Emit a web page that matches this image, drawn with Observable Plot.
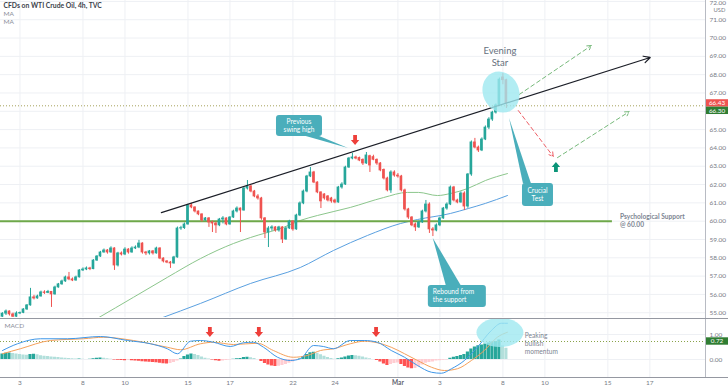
<!DOCTYPE html>
<html>
<head>
<meta charset="utf-8">
<script src="https://cdn.jsdelivr.net/npm/d3@7"></script>
<script src="https://cdn.jsdelivr.net/npm/@observablehq/plot@0.6"></script>
<style>
  html, body { margin: 0; padding: 0; background: #ffffff; }
  #chart { position: relative; width: 728px; height: 390px; overflow: hidden; background: #fff; }
  #chart svg { position: absolute; left: 0; display: block; }
</style>
</head>
<body>
<div id="chart"></div>
<script>
// ---------------- DATA ----------------
const titleText = "CFDs on WTI Crude Oil, 4h, TVC";
const legendLines = ["MA", "MA"];

// x positions are 4h candle indices (6 candles per trading day)
const tickIdx = [5, 23, 35, 53, 65, 83, 95, 113, 125, 143, 155, 173, 185];
const tickLabels = ["3", "8", "10", "15", "17", "22", "24", "Mar", "3", "8", "10", "15", "17"];
const priceTicks = [55, 56, 57, 58, 59, 60, 61, 62, 63, 64, 65, 66, 67, 68, 69, 70, 71, 72];
const macdTicks = [0, 1];

const opens = [54.78,54.95,55.07,54.91,54.78,54.96,54.99,55.18,55.40,55.84,
55.78,55.89,56.11,56.08,56.14,56.00,56.38,56.55,56.71,56.93,
56.82,56.76,56.93,57.31,57.36,57.42,57.38,57.85,58.07,58.29,
58.40,58.29,58.51,57.58,58.24,58.18,58.45,58.29,58.51,58.56,
58.78,58.29,58.24,58.35,58.24,58.51,57.96,57.80,57.74,57.69,
58.02,59.60,59.62,59.82,60.86,60.75,60.53,60.37,60.04,60.15,
59.93,59.87,59.77,60.09,60.15,59.82,60.20,60.53,60.69,60.58,
61.78,61.89,61.62,61.35,61.24,60.15,59.38,59.60,59.66,59.49,
59.66,59.00,59.60,59.98,59.55,60.31,60.97,61.62,62.44,62.66,
62.11,61.57,61.46,61.35,61.24,61.13,61.02,61.84,62.00,62.93,
63.42,63.48,63.45,63.35,63.15,63.55,63.50,63.35,63.15,62.80,
62.33,61.68,62.66,62.49,62.44,61.68,60.64,60.20,59.82,59.66,
59.93,60.53,60.91,59.55,59.49,59.77,60.15,60.69,60.91,61.84,
61.13,61.02,61.51,60.80,62.55,64.30,64.02,63.86,64.46,65.11,
65.55,65.93,66.32,67.85,67.70];
const highs = [55.00,55.15,55.10,54.98,55.05,55.04,55.22,55.45,56.33,55.95,
55.96,56.18,56.20,56.22,56.16,56.45,56.60,56.78,57.00,57.20,
56.90,57.00,57.35,57.45,57.50,57.48,57.90,58.12,58.35,58.48,
58.45,58.60,58.55,58.30,58.32,58.55,58.50,58.60,58.65,58.95,
58.82,58.35,58.40,58.40,58.58,58.55,58.00,57.85,57.80,58.08,
59.68,59.72,59.90,60.92,60.97,60.78,60.55,60.40,60.20,60.20,
60.00,59.95,60.15,60.25,60.18,60.25,60.60,60.78,60.72,61.85,
62.22,61.95,61.68,61.45,61.30,60.20,59.70,59.75,59.70,59.72,
59.70,59.68,60.05,60.02,60.38,61.05,61.70,62.50,62.93,62.72,
62.15,61.60,61.50,61.40,61.30,61.20,61.90,62.10,63.00,63.48,
63.70,63.55,63.50,63.40,63.75,63.60,63.60,63.40,63.20,62.85,
62.40,62.75,62.75,62.60,62.50,61.75,60.70,60.25,59.90,60.00,
60.60,61.13,61.00,59.65,59.85,60.22,60.75,61.00,61.92,61.90,
61.20,61.60,61.60,62.60,64.38,64.52,64.10,64.55,65.20,65.65,
66.00,66.40,67.82,68.06,67.75];
const lows = [54.75,54.85,54.82,54.74,54.75,54.90,54.95,55.12,55.36,55.70,
55.74,55.85,56.00,56.04,55.29,55.96,56.34,56.50,56.66,56.75,
56.70,56.72,56.90,57.25,57.30,57.30,57.35,57.80,58.02,58.25,
58.20,58.25,57.31,57.50,58.10,58.12,58.20,58.25,58.45,58.50,
58.20,58.12,58.15,58.15,58.20,57.90,57.72,57.68,57.42,57.65,
57.98,59.50,59.55,59.78,60.68,60.45,60.30,59.95,60.00,59.66,
59.38,59.33,59.70,59.85,59.75,59.78,60.15,60.45,59.38,60.55,
61.70,61.55,61.28,61.15,60.05,59.05,58.56,59.45,59.40,59.40,
58.78,58.95,59.55,59.45,59.50,60.25,60.90,61.55,62.38,62.05,
61.50,60.69,61.15,61.05,60.98,60.95,60.98,61.75,61.95,62.88,
63.35,63.35,63.25,63.04,63.10,62.66,63.30,63.05,62.70,62.25,
61.60,61.52,62.40,62.35,61.60,60.55,60.10,59.70,59.44,59.60,
59.88,60.45,59.33,59.16,59.42,59.70,60.10,60.60,60.85,61.05,
60.95,60.98,60.58,60.70,62.45,63.95,63.75,63.80,64.40,65.00,
65.45,65.85,66.25,67.45,66.15];
const closes = [54.95,55.07,54.91,54.78,54.96,54.99,55.18,55.40,55.84,55.78,
55.89,56.11,56.08,56.14,56.00,56.38,56.55,56.71,56.93,56.82,
56.76,56.93,57.31,57.36,57.42,57.38,57.85,58.07,58.29,58.40,
58.29,58.51,57.58,58.24,58.18,58.45,58.29,58.51,58.56,58.78,
58.29,58.24,58.35,58.24,58.51,57.96,57.80,57.74,57.69,58.02,
59.60,59.62,59.82,60.86,60.75,60.53,60.37,60.04,60.15,59.93,
59.87,59.77,60.09,60.15,59.82,60.20,60.53,60.69,60.58,61.78,
61.89,61.62,61.35,61.24,60.15,59.38,59.60,59.66,59.49,59.66,
59.00,59.60,59.98,59.55,60.31,60.97,61.62,62.44,62.66,62.11,
61.57,61.08,61.24,61.13,61.08,61.02,61.84,62.00,62.93,63.42,
63.48,63.42,63.31,63.15,63.59,63.04,63.35,63.15,62.77,62.33,
61.68,62.66,62.49,62.44,61.68,60.64,60.20,59.77,59.66,59.93,
60.53,60.91,59.55,59.49,59.77,60.15,60.69,60.91,61.84,61.13,
61.02,61.51,60.80,62.55,64.30,64.02,63.86,64.46,65.11,65.55,
65.93,66.32,67.73,67.70,66.43];

// moving averages (candle index, price)
const maFastIdx = [27.1, 37.4, 47.1, 56.6, 66, 70.9, 80.3, 85.1, 90, 99.4, 108.9, 115.7, 118.9, 124.3, 128, 132.9, 138, 144.3];
const maFastVal = [54.69, 55.84, 56.93, 57.96, 58.78, 59.11, 59.66, 60.04, 60.31, 60.75, 61.29, 61.57, 61.57, 61.40, 61.51, 61.78, 62.22, 62.60];
const maSlowIdx = [45.1, 56.6, 70.9, 85.1, 94.6, 104.3, 113.7, 118.6, 128, 133.1, 138, 144.3];
const maSlowVal = [54.69, 55.51, 56.60, 57.47, 58.40, 59.22, 59.87, 60.09, 60.42, 60.69, 60.97, 61.40];

// MACD panel
const macdIdx = [0, 4.3, 10.9, 18.6, 28, 35.7, 42.3, 47.1, 50, 53.7, 56.6, 60.3, 65.1, 68.9, 71.7, 74.6, 78.6, 82.3, 85.1, 88.9, 91.7, 94.6, 99.4, 103.4, 107.1, 111.1, 114.9, 118.6, 122.6, 125.4, 128.3, 132, 135.7, 139.7, 142.6, 144.3];
const macdVal = [0.36, 0.63, 0.83, 0.83, 0.92, 0.76, 0.63, 0.43, 0.23, 0.73, 0.76, 0.69, 0.52, 0.67, 0.69, 0.49, 0.09, -0.04, 0.03, 0.56, 0.52, 0.43, 0.76, 0.76, 0.69, 0.36, 0.09, -0.24, -0.51, -0.55, -0.37, -0.04, 0.49, 1.16, 1.45, 1.45];
const signalIdx = [0, 5.1, 13.7, 23.1, 28.9, 37.4, 47.1, 50.9, 56.6, 60.3, 66, 72.9, 77.4, 83.1, 87.1, 90.9, 94.6, 99.4, 103.4, 107.1, 111.1, 114.9, 118.6, 122.6, 126.3, 130, 134, 137.7, 141.4, 144.3];
const signalVal = [0.23, 0.43, 0.76, 0.83, 0.89, 0.76, 0.49, 0.39, 0.63, 0.69, 0.60, 0.65, 0.36, 0.09, 0.16, 0.36, 0.43, 0.63, 0.73, 0.67, 0.49, 0.23, -0.04, -0.31, -0.44, -0.37, -0.04, 0.36, 0.89, 1.09];
const hist = [0.22,0.25,0.26,0.24,0.22,0.20,0.18,0.17,0.20,0.21,
0.19,0.15,0.13,0.12,0.10,0.09,0.08,0.06,0.05,0.04,
0.03,0.02,0.02,0.01,0.00,0.01,0.03,0.05,0.06,0.05,
0.03,0.01,-0.02,-0.03,-0.04,-0.05,-0.03,-0.05,-0.06,-0.07,
-0.09,-0.10,-0.11,-0.12,-0.13,-0.15,-0.17,-0.18,-0.16,-0.12,
-0.06,0.02,0.12,0.18,0.22,0.20,0.16,0.10,0.05,0.02,
-0.02,-0.05,-0.07,-0.06,-0.04,-0.02,0.01,0.03,0.04,0.08,
0.09,0.07,0.04,0.00,-0.08,-0.16,-0.22,-0.26,-0.28,-0.27,
-0.24,-0.20,-0.15,-0.10,-0.04,0.02,0.12,0.20,0.27,0.29,
0.25,0.19,0.13,0.08,0.04,0.01,0.03,0.06,0.10,0.14,
0.16,0.15,0.13,0.10,0.06,0.03,0.00,-0.04,-0.10,-0.18,
-0.24,-0.20,-0.16,-0.14,-0.20,-0.28,-0.34,-0.37,-0.36,-0.30,
-0.22,-0.15,-0.12,-0.10,-0.06,-0.05,-0.03,-0.02,0.05,0.09,
0.12,0.16,0.20,0.30,0.42,0.50,0.55,0.58,0.62,0.66,
0.70,0.72,0.78,0.55,0.45];

const lastPrice = 66.43, prevPrice = 66.30, macdLast = 0.72;
const supportLevel = 60;
const supportLabel = ["Psychological Support", "@ 60.00"];
const starLabel = ["Evening", "Star"];
const momentumLabel = ["Peaking", "bullish", "momentum"];

// ---------------- STYLE ----------------
const FONT = "Lato, 'Open Sans', 'DejaVu Sans', sans-serif";
const UP = "#26a69a", DOWN = "#ef5350";
const GRID = "#eef0f4", AXIS_TXT = "#787b86";
const TEAL = "#4aaebb";
const xDomain = [-0.57, 200.9];

const candles = closes.map((c, i) => ({i, o: opens[i], h: highs[i], l: lows[i], c, col: c >= opens[i] ? UP : DOWN}));
const maFast = maFastIdx.map((i, k) => ({i, v: maFastVal[k]}));
const maSlow = maSlowIdx.map((i, k) => ({i, v: maSlowVal[k]}));
const macdLine = macdIdx.map((i, k) => ({i, v: macdVal[k]}));
const signalLine = signalIdx.map((i, k) => ({i, v: signalVal[k]}));
const histData = hist.map((v, i) => {
  const p = i > 0 ? hist[i - 1] : v - 0.01;
  const col = v >= 0 ? (v >= p ? "#26a69a" : "#b2dfdb") : (v < p ? "#ff5252" : "#ffcdd2");
  return {i, v, col};
});

// annotation geometry (candle index, price)
const trendLine = [{i1: 45.4, p1: 60.47, i2: 185.1, p2: 68.94}];
const scenarioUp = [{i1: 147.7, p1: 66.92, i2: 168.3, p2: 69.59}];
const scenarioDown = [{i1: 147.4, p1: 66.04, i2: 157.4, p2: 63.53}];
const scenarioRebound = [{i1: 158.6, p1: 63.47, i2: 179.1, p2: 65.98}];
const supportSeg = [{y: supportLevel, x1: -1, x2: 174.3}];

// ---------------- MAIN PANEL ----------------
const main = Plot.plot({
  width: 728, height: 318,
  marginLeft: 0, marginRight: 23, marginTop: 0, marginBottom: 1,
  x: {domain: xDomain, axis: null},
  y: {domain: [54.74, 72.05], axis: null},
  color: {type: "identity"},
  style: {background: "transparent", fontFamily: FONT, overflow: "visible"},
  marks: [
    Plot.ruleY(priceTicks, {stroke: GRID}),
    Plot.ruleX(tickIdx, {stroke: GRID}),
    Plot.ruleY([prevPrice], {stroke: "#a6a25a", strokeDasharray: "1,2", strokeWidth: 1}),
    Plot.line(maFast, {x: "i", y: "v", stroke: "#8cc68c", strokeWidth: 1, curve: "monotone-x", clip: true}),
    Plot.line(maSlow, {x: "i", y: "v", stroke: "#5aa0e0", strokeWidth: 1, curve: "monotone-x", clip: true}),
    Plot.ruleY(supportSeg, {y: "y", x1: "x1", x2: "x2", stroke: "#6ea84a", strokeWidth: 2}),
    Plot.ruleX(candles, {x: "i", y1: "l", y2: "h", stroke: "col", strokeWidth: 1, ariaLabel: "wicks", clip: true}),
    Plot.rect(candles, {x1: d => d.i - 0.38, x2: d => d.i + 0.38, y1: "o", y2: "c", fill: "col", insetTop: -0.4, insetBottom: -0.4, clip: true}),
    Plot.arrow(trendLine, {x1: "i1", y1: "p1", x2: "i2", y2: "p2", stroke: "#1b1e27", strokeWidth: 1.2, headLength: 9, headAngle: 55}),
    Plot.arrow(scenarioUp, {x1: "i1", y1: "p1", x2: "i2", y2: "p2", stroke: "#76b97a", strokeWidth: 1, strokeDasharray: "4,3", headLength: 7, headAngle: 60}),
    Plot.arrow(scenarioDown, {x1: "i1", y1: "p1", x2: "i2", y2: "p2", stroke: "#ee5f66", strokeWidth: 1, strokeDasharray: "4,3", headLength: 7, headAngle: 60}),
    Plot.arrow(scenarioRebound, {x1: "i1", y1: "p1", x2: "i2", y2: "p2", stroke: "#76b97a", strokeWidth: 1, strokeDasharray: "4,3", headLength: 7, headAngle: 60}),
    Plot.text([titleText], {frameAnchor: "top-left", dx: 3, dy: 2.5, text: d => d, fontSize: 6.8, fontWeight: "bold", fill: "#3b3f4a", textAnchor: "start", lineAnchor: "top"}),
    Plot.text(legendLines, {frameAnchor: "top-left", dx: 3, text: d => d, fontSize: 6.5, fill: "#8a8e99", textAnchor: "start", lineAnchor: "top", filter: (d, k) => k === 0, dy: 11}),
    Plot.text(legendLines, {frameAnchor: "top-left", dx: 3, text: d => d, fontSize: 6.5, fill: "#8a8e99", textAnchor: "start", lineAnchor: "top", filter: (d, k) => k === 1, dy: 19}),
    Plot.text(priceTicks.filter(d => d < 72), {y: d => d, text: d => d.toFixed(2), frameAnchor: "right", dx: 4, textAnchor: "start", fontSize: 6.5, fill: AXIS_TXT}),
    Plot.text(priceTicks.filter(d => d === 72), {frameAnchor: "top-right", dx: 4, dy: 0, text: d => d.toFixed(2), textAnchor: "start", lineAnchor: "top", fontSize: 6.5, fill: AXIS_TXT}),
    Plot.text(["USD"], {frameAnchor: "top-right", dx: 8, dy: 7, text: d => d, textAnchor: "start", lineAnchor: "top", fontSize: 5.8, fill: AXIS_TXT})
  ]
});

// ---------------- MACD PANEL ----------------
const macd = Plot.plot({
  width: 728, height: 72,
  marginLeft: 0, marginRight: 23, marginTop: 0, marginBottom: 13,
  x: {domain: xDomain, axis: null},
  y: {domain: [-0.72, 1.64], axis: null},
  color: {type: "identity"},
  style: {background: "transparent", fontFamily: FONT, overflow: "visible"},
  marks: [
    Plot.ruleX(tickIdx, {stroke: GRID}),
    Plot.ruleY(macdTicks, {stroke: GRID}),
    Plot.rect(histData, {x1: d => d.i - 0.45, x2: d => d.i + 0.45, y1: () => 0, y2: "v", fill: "col", ariaLabel: "hist"}),
    Plot.ruleY([macdLast], {stroke: "#8aa34a", strokeDasharray: "1,2", strokeWidth: 1}),
    Plot.line(signalLine, {x: "i", y: "v", stroke: "#f5a05a", strokeWidth: 1, curve: "monotone-x", clip: true}),
    Plot.line(macdLine, {x: "i", y: "v", stroke: "#3f97e8", strokeWidth: 1, curve: "monotone-x", clip: true}),
    Plot.text(["MACD"], {frameAnchor: "top-left", dx: 4, dy: 5, text: d => d, fontSize: 6.5, fill: "#8a8e99", textAnchor: "start", lineAnchor: "top"}),
    Plot.text(macdTicks, {y: d => d, text: d => d.toFixed(2), frameAnchor: "right", dx: 4, textAnchor: "start", fontSize: 6.5, fill: AXIS_TXT}),
    Plot.text(tickIdx.filter((d, k) => tickLabels[k] !== "Mar"), {x: d => d, text: d => tickLabels[tickIdx.indexOf(d)], frameAnchor: "bottom", dy: 7, fontSize: 6.5, fill: AXIS_TXT}),
    Plot.text(tickIdx.filter((d, k) => tickLabels[k] === "Mar"), {x: d => d, text: () => "Mar", frameAnchor: "bottom", dy: 7, fontSize: 6.5, fontWeight: "bold", fill: "#5d616c"})
  ]
});

const chart = document.getElementById("chart");
main.style.top = "0px";
macd.style.top = "318px";
chart.appendChild(main);
chart.appendChild(macd);

// ---------------- OVERLAYS (positioned through Plot's scales) ----------------
function scalesOf(plot) {
  const sx = plot.scale("x"), sy = plot.scale("y");
  return [d3.scaleLinear(sx.domain, sx.range), d3.scaleLinear(sy.domain, sy.range), sx.range[1]];
}
const [MX, MY, mRight] = scalesOf(main);
const [DX, DY, dRight] = scalesOf(macd);
const ms = d3.select(main), ds = d3.select(macd);

// highlight ellipses (under the candles / histogram)
ms.insert("ellipse", "g[aria-label='wicks']")
  .attr("cx", MX(142.6)).attr("cy", MY(67.02)).attr("rx", 18).attr("ry", 21)
  .attr("transform", `rotate(-25 ${MX(142.6)} ${MY(67.02)})`)
  .attr("fill", "#9fe8f0").attr("fill-opacity", 0.8);
ds.insert("ellipse", "g[aria-label='hist']")
  .attr("cx", DX(142.3)).attr("cy", DY(1.06)).attr("rx", 23.5).attr("ry", 14.5)
  .attr("fill", "#9fe8f0").attr("fill-opacity", 0.8);

// multi-line labels anchored on data coordinates
function lines(sel, x, y, arr, o) {
  const n = arr.length, gap = o.size * 1.2;
  arr.forEach((t, k) => sel.append("text")
    .attr("x", x).attr("y", y + (k - (n - 1) / 2) * gap).attr("dy", "0.35em")
    .attr("text-anchor", o.anchor || "start").attr("font-family", FONT)
    .attr("font-size", o.size).attr("font-weight", o.weight || "normal").attr("fill", o.fill).text(t));
}
lines(ms, MX(176.6), MY(supportLevel), supportLabel, {size: 6.6, weight: "bold", fill: "#7d8592"});
lines(ms, MX(142.3), MY(68.95), starLabel, {size: 9.5, anchor: "middle", fill: "#66707d"});
lines(ds, DX(149.4), DY(0.62), momentumLabel, {size: 6.6, fill: "#7d8592"});

// block arrows
function blockArrow(sel, cx, tipY, dir, color) {
  const hw = 4.2, hh = 5, sw = 1.9, sh = 5, s = dir;
  const d = `M${cx},${tipY} L${cx - hw},${tipY - s * hh} L${cx - sw},${tipY - s * hh} L${cx - sw},${tipY - s * (hh + sh)} L${cx + sw},${tipY - s * (hh + sh)} L${cx + sw},${tipY - s * hh} L${cx + hw},${tipY - s * hh} Z`;
  sel.append("path").attr("d", d).attr("fill", color);
}
blockArrow(ms, MX(100.9), MY(64.13), 1, "#ee3f3a");
blockArrow(ms, MX(158.3), MY(63.2), -1, "#0a9478");
[59.4, 73.4, 106.9].forEach(i => blockArrow(ds, DX(i), DY(0.88), 1, "#ee3f3a"));

// teal callouts
function callout(sel, c) {
  const bx = MX(c.box[0]), by = MY(c.box[1]);
  const g = sel.append("g");
  const edgeY = c.edge === "bottom" ? by + c.h - 0.5 : by + 0.5;
  g.append("path")
    .attr("d", `M${bx + c.base[0]},${edgeY} L${MX(c.tip[0])},${MY(c.tip[1])} L${bx + c.base[1]},${edgeY} Z`)
    .attr("fill", TEAL);
  g.append("rect").attr("x", bx).attr("y", by).attr("width", c.w).attr("height", c.h).attr("rx", 3).attr("fill", TEAL);
  const ax = c.align === "left" ? bx + 5 : bx + c.w / 2;
  lines(g, ax, by + c.h / 2, c.lines, {size: 6.6, anchor: c.align === "left" ? "start" : "middle", fill: "#ffffff"});
}
callout(ms, {lines: ["Previous", "swing high"], box: [78.3, 65.77], w: 46, h: 21, tip: [98.9, 63.97], edge: "bottom", base: [28, 42], align: "center"});
callout(ms, {lines: ["Rebound from", "the support"], box: [121.7, 56.49], w: 58, h: 22, tip: [123.1, 59.06], edge: "top", base: [18, 33], align: "left"});
callout(ms, {lines: ["Crucial", "Test"], box: [148.6, 62.06], w: 31, h: 23, tip: [144.9, 65.61], edge: "top", base: [1, 9], align: "center"});

// right price scale labels
function priceBox(sel, y, text, fill, x0) {
  sel.append("rect").attr("x", x0 + 1).attr("y", y - 3.7).attr("width", 22).attr("height", 7.4).attr("fill", fill);
  sel.append("text").attr("x", x0 + 12).attr("y", y).attr("dy", "0.35em").attr("text-anchor", "middle")
    .attr("font-size", 6.3).attr("font-family", FONT).attr("fill", "#ffffff").text(text);
}
const yLast = MY(lastPrice);
priceBox(ms, yLast, lastPrice.toFixed(2), "#ef5350", mRight);
priceBox(ms, Math.max(MY(prevPrice), yLast + 7.4), prevPrice.toFixed(2), "#2f7d32", mRight);
priceBox(ds, DY(macdLast), macdLast.toFixed(2), "#2f7d32", dRight);

// axis lines and panel separators
ms.append("line").attr("x1", mRight + 0.5).attr("x2", mRight + 0.5).attr("y1", 0).attr("y2", 318).attr("stroke", "#b8bbc3");
ds.append("line").attr("x1", dRight + 0.5).attr("x2", dRight + 0.5).attr("y1", 0).attr("y2", 59).attr("stroke", "#b8bbc3");
ds.append("line").attr("x1", 0).attr("x2", 728).attr("y1", 0.5).attr("y2", 0.5).attr("stroke", "#9598a1").attr("stroke-width", 1.2);
ds.append("line").attr("x1", 0).attr("x2", 728).attr("y1", 59.5).attr("y2", 59.5).attr("stroke", "#9598a1");
</script>
</body>
</html>
